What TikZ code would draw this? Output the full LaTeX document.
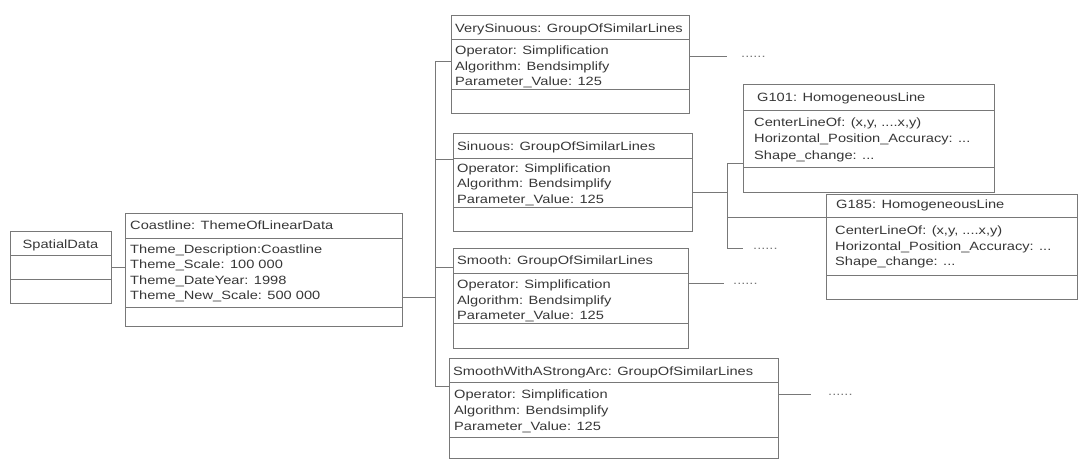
\documentclass[tikz,border=0pt]{standalone}
\usepackage{fontspec}
\setmainfont{Liberation Sans}[FakeStretch=1.22]
\definecolor{ln}{RGB}{120,120,120}
\definecolor{tx}{RGB}{55,55,55}
\tikzset{
  box/.style={draw=ln, line width=0.9pt, rectangle, inner sep=0pt, outer sep=0pt, anchor=north west},
  div/.style={draw=ln, line width=0.9pt},
  conn/.style={draw=ln, line width=0.9pt},
  lbl/.style={text=tx, inner sep=0pt, anchor=base west, font=\fontsize{12}{14}\selectfont},
  dotlbl/.style={lbl, text=ln}
}
\begin{document}
\begin{tikzpicture}[x=1pt,y=-1pt]
\useasboundingbox (0,0) rectangle (1081,461);

% SpatialData
\node[box, minimum width=101pt, minimum height=72pt] (sd) at (10,231) {};
\draw[div] (10,255) -- (111,255);
\draw[div] (10,279) -- (111,279);
\node[lbl, anchor=base] (sdt) at (60.5,248) {SpatialData};

% Coastline
\node[box, minimum width=277pt, minimum height=113pt] (cl) at (125,213) {};
\draw[div] (125,238) -- (402,238);
\draw[div] (125,307) -- (402,307);
\node[lbl] (clt) at (130,229.5) {Coastline: ThemeOfLinearData};
\node[lbl] (cla) at (130,253.5) {Theme\_Description:Coastline};
\node[lbl] (clb) at (130,268.8) {Theme\_Scale: 100 000};
\node[lbl] (clc) at (130,284.1) {Theme\_DateYear: 1998};
\node[lbl] (cld) at (130,299.4) {Theme\_New\_Scale: 500 000};

% VerySinuous
\node[box, minimum width=238pt, minimum height=98pt] (vs) at (451,15) {};
\draw[div] (451,39) -- (689,39);
\draw[div] (451,89) -- (689,89);
\node[lbl] (vst) at (455,32.5) {VerySinuous: GroupOfSimilarLines};
\node[lbl] (vsa) at (455,54.5) {Operator: Simplification};
\node[lbl] (vsb) at (455,70) {Algorithm: Bendsimplify};
\node[lbl] (vsc) at (455,85.5) {Parameter\_Value: 125};

% Sinuous
\node[box, minimum width=239pt, minimum height=98pt] (si) at (453,133) {};
\draw[div] (453,158) -- (692,158);
\draw[div] (453,207) -- (692,207);
\node[lbl] (sit) at (457,150) {Sinuous: GroupOfSimilarLines};
\node[lbl] (sia) at (457,172) {Operator: Simplification};
\node[lbl] (sib) at (457,187.5) {Algorithm: Bendsimplify};
\node[lbl] (sic) at (457,203) {Parameter\_Value: 125};

% Smooth
\node[box, minimum width=235pt, minimum height=100pt] (sm) at (453,248) {};
\draw[div] (453,273) -- (688,273);
\draw[div] (453,323) -- (688,323);
\node[lbl] (smt) at (457,264.5) {Smooth: GroupOfSimilarLines};
\node[lbl] (sma) at (457,288.5) {Operator: Simplification};
\node[lbl] (smb) at (457,304) {Algorithm: Bendsimplify};
\node[lbl] (smc) at (457,319.5) {Parameter\_Value: 125};

% SmoothWithAStrongArc
\node[box, minimum width=329pt, minimum height=100pt] (sw) at (449,358) {};
\draw[div] (449,382) -- (778,382);
\draw[div] (449,437) -- (778,437);
\node[lbl] (swt) at (453,375) {SmoothWithAStrongArc: GroupOfSimilarLines};
\node[lbl] (swa) at (454,398) {Operator: Simplification};
\node[lbl] (swb) at (454,414) {Algorithm: Bendsimplify};
\node[lbl] (swc) at (454,430) {Parameter\_Value: 125};

% G101
\node[box, minimum width=251pt, minimum height=108pt] (ga) at (743,84) {};
\draw[div] (743,110) -- (994,110);
\draw[div] (743,167) -- (994,167);
\node[lbl] (gat) at (757,101.5) {G101: HomogeneousLine};
\node[lbl] (gaa) at (754,126) {CenterLineOf: (x,y, ....x,y)};
\node[lbl] (gab) at (754,142.5) {Horizontal\_Position\_Accuracy: ...};
\node[lbl] (gac) at (754,159) {Shape\_change: ...};

% G185
\node[box, minimum width=251pt, minimum height=105pt] (gb) at (826,194) {};
\draw[div] (826,217) -- (1077,217);
\draw[div] (826,275) -- (1077,275);
\node[lbl] (gbt) at (836,208.5) {G185: HomogeneousLine};
\node[lbl] (gba) at (835,234) {CenterLineOf: (x,y, ....x,y)};
\node[lbl] (gbb) at (835,250) {Horizontal\_Position\_Accuracy: ...};
\node[lbl] (gbc) at (835,265.5) {Shape\_change: ...};

% connectors left
\draw[conn] (sd.east) -- (sd.east -| cl.west);
\coordinate (j0) at (435,297);
\coordinate (t1) at (435,61);
\coordinate (t2) at (435,159);
\coordinate (t3) at (435,267);
\coordinate (t4) at (435,386);
\draw[conn] (j0 -| cl.east) -- (j0);
\draw[conn] (t1 -| vs.west) -- (t1) -- (t4) -- (t4 -| sw.west);
\draw[conn] (t2) -- (t2 -| si.west);
\draw[conn] (t3) -- (t3 -| sm.west);

% connectors right
\coordinate (r1) at (727,56);
\draw[conn] (r1 -| vs.east) -- (r1);
\node[dotlbl] (d1) at (741,57) {......};

\coordinate (s1) at (727,192);
\coordinate (s2) at (727,163);
\coordinate (s3) at (727,217);
\coordinate (s4) at (727,248);
\coordinate (s5) at (743,248);
\draw[conn] (s1 -| si.east) -- (s1);
\draw[conn] (s2 -| ga.west) -- (s2) -- (s4) -- (s5);
\draw[conn] (s3) -- (s3 -| gb.west);
\node[dotlbl] (d2) at (753,249) {......};

\coordinate (m1) at (724,283);
\draw[conn] (m1 -| sm.east) -- (m1);
\node[dotlbl] (d3) at (733,284) {......};

\coordinate (w1) at (811,394);
\draw[conn] (w1 -| sw.east) -- (w1);
\node[dotlbl] (d4) at (828,395) {......};
\end{tikzpicture}
\end{document}
